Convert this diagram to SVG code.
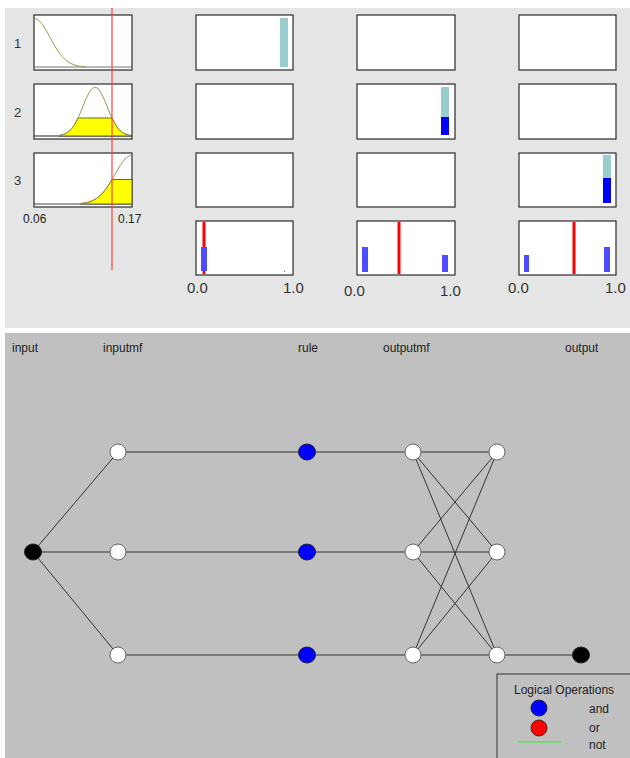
<svg xmlns="http://www.w3.org/2000/svg" width="630" height="758" viewBox="0 0 630 758">
<style>
.box{fill:#fff;stroke:#3a3a3a;stroke-width:1.3}
.base{stroke:#777;stroke-width:1}
.mf{fill:none;stroke:#a09a50;stroke-width:1}
.fill{fill:#ffff00;stroke:#404020;stroke-width:0.8}
.teal{fill:#99cccc}
.blue{fill:#0000ff}
.lb{fill:#4d4dff}
.red{stroke:#ff0000;stroke-width:3}
.t{font-family:"Liberation Sans",Arial,sans-serif;font-size:12px;fill:#222}
.n{font-family:"Liberation Sans",Arial,sans-serif;font-size:13px;fill:#333}
.ax{font-family:"Liberation Sans",Arial,sans-serif;font-size:15px;fill:#333}
.edge{stroke:#333;stroke-width:1;fill:none}
.wn{fill:#fff;stroke:#666;stroke-width:1}
.bn{fill:#000;stroke:#222;stroke-width:1}
.rn{fill:#0000ff;stroke:#223;stroke-width:1}
</style>
<rect x="0" y="0" width="630" height="758" fill="#fff"/>
<rect x="5" y="8" width="625" height="320" fill="#e5e5e5"/>
<rect x="5" y="333" width="625" height="425" fill="#c0c0c0"/>

<g id="input-mfs">
<text class="n" x="14" y="48">1</text>
<text class="n" x="14" y="117">2</text>
<text class="n" x="14" y="185">3</text>
<rect class="box" x="34" y="15" width="98" height="55"/>
<line class="base" x1="34" y1="67" x2="132" y2="67"/>
<polyline class="mf" points="34,18 38,19.5 42,23.8 46,30 50,37.3 54,44.6 58,51.1 62,56.4 66,60.4 70,63.1 74,64.8 78,65.9 82,66.5 86,67"/>
<rect class="box" x="34" y="84" width="98" height="55"/>
<line x1="34" y1="136" x2="132" y2="136" stroke="#222" stroke-width="1"/>
<polygon class="fill" points="59,136 59,135.5 62,134.9 65,133.8 68,132.1 71,129.4 74,125.4 77,120.1 78,118 112,118 113,120.1 116,125.4 119,129.4 122,132.1 125,133.8 128,134.9 131,135.5 131,136"/>
<polyline class="mf" points="59,135.5 62,134.9 65,133.8 68,132.1 71,129.4 74,125.4 77,120.1 80,113.6 83,106.3 86,99 89,92.8 92,88.5 95,87 98,88.5 101,92.8 104,99 107,106.3 110,113.6 113,120.1 116,125.4 119,129.4 122,132.1 125,133.8 128,134.9 131,135.5"/>
<rect class="box" x="34" y="153" width="98" height="54"/>
<line x1="34" y1="204" x2="132" y2="204" stroke="#444" stroke-width="1"/>
<polygon class="fill" points="80,204 80,203.5 84,203.1 88,202.3 92,200.9 96,198.8 100,195.7 104,191.4 108,185.9 112,179.5 132,179.5 132,204"/>
<polyline class="mf" points="80,203.5 84,203.1 88,202.3 92,200.9 96,198.8 100,195.7 104,191.4 108,185.9 112,179.5 116,172.5 120,165.8 124,160.1 128,156.3 132,155"/>
<text class="t" x="23" y="223">0.06</text>
<text class="t" x="118" y="223">0.17</text>
</g>

<g id="rule-outputs">
<rect class="box" x="196" y="15" width="97" height="55"/>
<rect class="teal" x="280" y="18" width="8" height="49"/>
<rect class="box" x="196" y="84" width="97" height="55"/>
<rect class="box" x="196" y="153" width="97" height="54"/>
<rect class="box" x="196" y="221" width="97" height="54"/>
<line class="red" x1="204" y1="222" x2="204" y2="274"/>
<rect class="lb" x="201" y="247" width="6" height="24"/>
<rect class="lb" x="284" y="271" width="1" height="1"/>
<text class="ax" x="187" y="293">0.0</text>
<text class="ax" x="283" y="293">1.0</text>

<rect class="box" x="357" y="15" width="98" height="55"/>
<rect class="box" x="357" y="84" width="98" height="55"/>
<rect class="teal" x="441" y="87" width="8" height="48"/>
<rect class="blue" x="441" y="117" width="8" height="18"/>
<rect class="box" x="357" y="153" width="98" height="54"/>
<rect class="box" x="357" y="221" width="98" height="54"/>
<rect class="lb" x="362" y="247" width="6" height="25"/>
<rect class="lb" x="442" y="255" width="6" height="17"/>
<line class="red" x1="399" y1="222" x2="399" y2="274"/>
<text class="ax" x="344" y="296">0.0</text>
<text class="ax" x="440" y="296">1.0</text>

<rect class="box" x="519" y="15" width="97" height="55"/>
<rect class="box" x="519" y="84" width="97" height="55"/>
<rect class="box" x="519" y="153" width="97" height="54"/>
<rect class="teal" x="603" y="155" width="8" height="48"/>
<rect class="blue" x="603" y="178" width="8" height="25"/>
<rect class="box" x="519" y="221" width="97" height="54"/>
<rect class="lb" x="524" y="255" width="5" height="17"/>
<rect class="lb" x="604" y="247" width="6" height="25"/>
<line class="red" x1="574" y1="222" x2="574" y2="274"/>
<text class="ax" x="508" y="293">0.0</text>
<text class="ax" x="605" y="293">1.0</text>
</g>
<line x1="112" y1="8" x2="112" y2="270" stroke="#ff4040" stroke-width="1.2"/>

<g id="layer-labels">
<text class="t" x="12" y="352">input</text>
<text class="t" x="103" y="352">inputmf</text>
<text class="t" x="298" y="352">rule</text>
<text class="t" x="383" y="352">outputmf</text>
<text class="t" x="565" y="352">output</text>
</g>

<g id="connectors">
<line class="edge" x1="33" y1="552" x2="118" y2="452"/>
<line class="edge" x1="33" y1="552" x2="118" y2="552"/>
<line class="edge" x1="33" y1="552" x2="118" y2="655"/>
<line class="edge" x1="118" y1="452" x2="307" y2="452"/>
<line class="edge" x1="118" y1="552" x2="307" y2="552"/>
<line class="edge" x1="118" y1="655" x2="307" y2="655"/>
<line class="edge" x1="307" y1="452" x2="413" y2="452"/>
<line class="edge" x1="307" y1="552" x2="413" y2="552"/>
<line class="edge" x1="307" y1="655" x2="413" y2="655"/>
<line class="edge" x1="413" y1="452" x2="497" y2="452"/>
<line class="edge" x1="413" y1="452" x2="497" y2="552"/>
<line class="edge" x1="413" y1="452" x2="497" y2="655"/>
<line class="edge" x1="413" y1="552" x2="497" y2="452"/>
<line class="edge" x1="413" y1="552" x2="497" y2="552"/>
<line class="edge" x1="413" y1="552" x2="497" y2="655"/>
<line class="edge" x1="413" y1="655" x2="497" y2="452"/>
<line class="edge" x1="413" y1="655" x2="497" y2="552"/>
<line class="edge" x1="413" y1="655" x2="497" y2="655"/>
<line class="edge" x1="497" y1="655" x2="581" y2="655"/>
</g>

<g id="node-input"><ellipse class="bn" cx="33" cy="552" rx="8.5" ry="8"/></g>
<g id="node-inputmf1"><circle class="wn" cx="118" cy="452" r="8"/></g>
<g id="node-inputmf2"><circle class="wn" cx="118" cy="552" r="8"/></g>
<g id="node-inputmf3"><circle class="wn" cx="118" cy="655" r="8"/></g>
<g id="node-rule1"><ellipse class="rn" cx="307" cy="452" rx="8.5" ry="8"/></g>
<g id="node-rule2"><ellipse class="rn" cx="307" cy="552" rx="8.5" ry="8"/></g>
<g id="node-rule3"><ellipse class="rn" cx="307" cy="655" rx="8.5" ry="8"/></g>
<g id="node-outputmf1a"><circle class="wn" cx="413" cy="452" r="8"/></g>
<g id="node-outputmf2a"><circle class="wn" cx="413" cy="552" r="8"/></g>
<g id="node-outputmf3a"><circle class="wn" cx="413" cy="655" r="8"/></g>
<g id="node-outputmf1b"><circle class="wn" cx="497" cy="452" r="8"/></g>
<g id="node-outputmf2b"><circle class="wn" cx="497" cy="552" r="8"/></g>
<g id="node-outputmf3b"><circle class="wn" cx="497" cy="655" r="8"/></g>
<g id="node-output"><ellipse class="bn" cx="581" cy="655" rx="8.5" ry="8"/></g>

<g id="legend">
<rect x="497" y="674" width="135" height="90" fill="none" stroke="#333" stroke-width="1"/>
<text class="t" x="514" y="694">Logical Operations</text>
<circle cx="539" cy="708" r="8" fill="#0000ff" stroke="#223" stroke-width="1"/>
<text class="t" x="589" y="713">and</text>
<circle cx="539" cy="728" r="8" fill="#ff0000" stroke="#522" stroke-width="1"/>
<text class="t" x="589" y="732">or</text>
<line x1="518" y1="742" x2="561" y2="742" stroke="#66dd66" stroke-width="1.5"/>
<text class="t" x="589" y="749">not</text>
</g>
</svg>
